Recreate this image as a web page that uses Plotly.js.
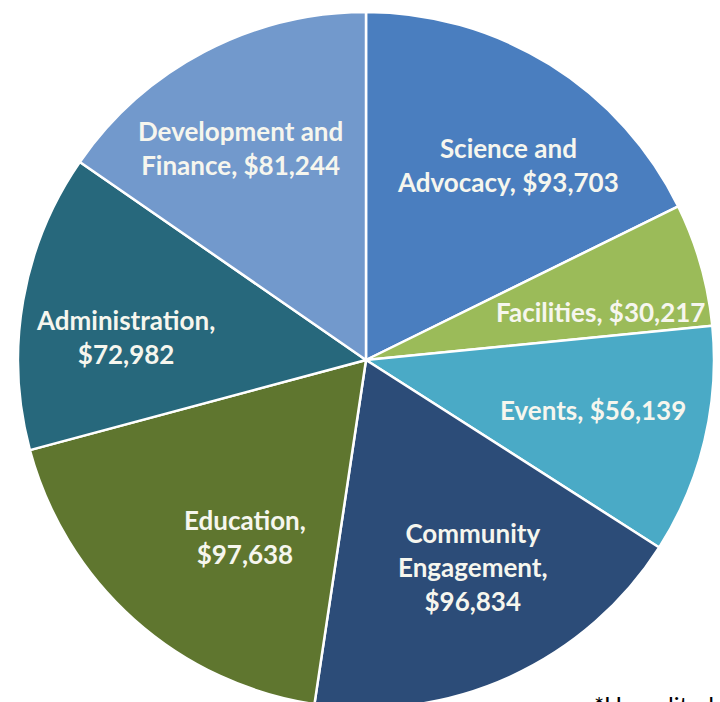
<!DOCTYPE html>
<html>
<head>
<meta charset="utf-8">
<script src="https://cdn.plot.ly/plotly-3.0.1.min.js"></script>
<style>
html,body{margin:0;padding:0;overflow:hidden;background:#fff;}
#chart{width:720px;height:720px;}
</style>
</head>
<body>
<div id="chart"></div>
<script>
// Data
const categories = ["Science and Advocacy", "Facilities", "Events", "Community Engagement", "Education", "Administration", "Development and Finance"];
const values = [93703, 30217, 56139, 96834, 97638, 72982, 81244];
const labelLines = [
  ["Science and", "Advocacy, "],
  ["Facilities, "],
  ["Events, "],
  ["Community", "Engagement,", ""],
  ["Education,", ""],
  ["Administration,", ""],
  ["Development and", "Finance, "]
];
const footnote = "*Unaudited";

// Styles
const colors = ["#4a7ebf", "#9bbb59", "#4aaac6", "#2c4c78", "#5f762f", "#27687c", "#7299cc"];
// label centres in pixels
const labelPx = [[508,165],[600,312],[593,410],[473,567],[245,537],[125,337],[240,148]];

const W = 720, H = 720, ml = 18, mt = 12, plot = 696;
const fmt = v => "$" + v.toLocaleString("en-US");

const annotations = categories.map((c, i) => {
  const lines = labelLines[i].slice();
  lines[lines.length - 1] = lines[lines.length - 1] + fmt(values[i]);
  return {
    text: lines.join("<br>"),
    xref: "paper", yref: "paper",
    x: (labelPx[i][0] - ml) / plot,
    y: 1 - (labelPx[i][1] - mt) / plot,
    xanchor: "center", yanchor: "middle",
    showarrow: false,
    font: {family: "Lato, 'Open Sans', sans-serif", size: 26, color: "#f6f6ee", weight: 700},
    align: "center"
  };
});
annotations.push({
  text: footnote, xref: "paper", yref: "paper",
  x: (592 - ml) / plot, y: 1 - (688 - mt) / plot,
  xanchor: "left", yanchor: "top", showarrow: false,
  font: {family: "Lato, sans-serif", size: 24, color: "#000"}
});

Plotly.newPlot("chart", [{
  type: "pie",
  labels: categories,
  values: values,
  sort: false,
  direction: "clockwise",
  rotation: 0,
  textinfo: "none",
  hoverinfo: "label+value",
  marker: {colors: colors, line: {color: "#ffffff", width: 2.5}},
  showlegend: false
}], {
  width: W, height: H,
  margin: {l: ml, r: W - ml - plot, t: mt, b: H - mt - plot},
  paper_bgcolor: "#ffffff",
  annotations: annotations,
  showlegend: false
}, {displayModeBar: false, staticPlot: true});
</script>
</body>
</html>
